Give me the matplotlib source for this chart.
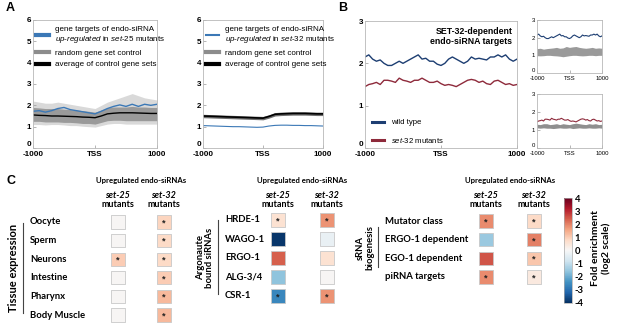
import numpy as np
import matplotlib
matplotlib.use('Agg')
import matplotlib.pyplot as plt
from matplotlib.lines import Line2D
from matplotlib.colors import Normalize
from matplotlib.cm import ScalarMappable
from matplotlib.transforms import blended_transform_factory as blend

W, H = 617, 328
plt.rcParams['font.family'] = ['Liberation Sans', 'DejaVu Sans']
plt.rcParams['axes.unicode_minus'] = False
plt.rcParams['mathtext.fontset'] = 'custom'
plt.rcParams['mathtext.it'] = 'Liberation Sans:italic'
plt.rcParams['mathtext.rm'] = 'Liberation Sans'
plt.rcParams['mathtext.bf'] = 'Liberation Sans:bold'

# ---- data: profiles (x = distance to TSS) ----
x21 = [-1000, -900, -800, -700, -600, -500, -400, -300, -200, -100, 0,
       100, 200, 300, 400, 500, 600, 700, 800, 900, 1000]

a1_blue = [1.72, 1.75, 1.68, 1.75, 1.85, 1.9, 1.8, 1.75, 1.7, 1.65, 1.6,
           1.72, 1.85, 1.95, 2.02, 1.95, 2.05, 1.95, 2.05, 2.0, 2.05]
a1_avg = [1.55, 1.53, 1.52, 1.5, 1.5, 1.49, 1.48, 1.47, 1.45, 1.44, 1.42,
          1.5, 1.6, 1.63, 1.65, 1.65, 1.65, 1.64, 1.63, 1.62, 1.62]
a1_outer_hi = [2.2, 2.15, 2.1, 2.1, 2.15, 2.1, 2.05, 2.0, 1.95, 1.9, 1.85,
               2.0, 2.15, 2.25, 2.35, 2.45, 2.55, 2.45, 2.35, 2.3, 2.25]
a1_outer_lo = [1.1, 1.1, 1.08, 1.1, 1.1, 1.08, 1.05, 1.05, 1.02, 1.0, 0.98,
               1.05, 1.12, 1.15, 1.15, 1.12, 1.12, 1.12, 1.12, 1.12, 1.12]
a1_inner_hi = [1.9, 1.88, 1.85, 1.85, 1.85, 1.82, 1.8, 1.78, 1.75, 1.72, 1.68,
               1.78, 1.88, 1.92, 1.92, 1.92, 1.95, 1.92, 1.92, 1.9, 1.9]
a1_inner_lo = [1.25, 1.25, 1.22, 1.22, 1.22, 1.2, 1.2, 1.18, 1.15, 1.15, 1.12,
               1.2, 1.28, 1.3, 1.3, 1.28, 1.28, 1.28, 1.28, 1.28, 1.28]

a2_blue = [1.05, 1.04, 1.03, 1.02, 1.01, 1.0, 1.0, 0.99, 0.98, 0.97, 0.98,
           1.03, 1.06, 1.07, 1.07, 1.06, 1.06, 1.05, 1.05, 1.04, 1.03]
a2_avg = [1.5, 1.49, 1.48, 1.47, 1.46, 1.45, 1.44, 1.43, 1.42, 1.41, 1.4,
          1.48, 1.58, 1.6, 1.61, 1.62, 1.62, 1.62, 1.61, 1.6, 1.6]
a2_hi = [1.58, 1.57, 1.56, 1.55, 1.54, 1.53, 1.52, 1.51, 1.5, 1.49, 1.48,
         1.56, 1.66, 1.68, 1.69, 1.7, 1.7, 1.7, 1.69, 1.68, 1.68]
a2_lo = [1.42, 1.41, 1.4, 1.39, 1.38, 1.37, 1.36, 1.35, 1.34, 1.33, 1.32,
         1.4, 1.5, 1.52, 1.53, 1.54, 1.54, 1.54, 1.53, 1.52, 1.52]

x41 = list(range(-1000, 1001, 50))
b_wt = [2.15, 2.2, 2.1, 2.05, 2.08, 2.0, 1.95, 1.95, 2.0, 2.05, 2.0, 2.05, 2.1, 2.15,
        2.2, 2.1, 2.12, 2.05, 2.05, 1.98, 1.95, 2.0, 2.1, 2.15, 2.1, 2.05, 2.0, 2.05,
        2.15, 2.1, 2.12, 2.1, 2.08, 2.15, 2.15, 2.2, 2.15, 2.2, 2.1, 2.05, 2.1]
b_mut = [1.45, 1.5, 1.52, 1.55, 1.5, 1.6, 1.6, 1.58, 1.55, 1.65, 1.6, 1.58, 1.55, 1.6,
         1.6, 1.65, 1.6, 1.55, 1.55, 1.58, 1.52, 1.48, 1.5, 1.48, 1.45, 1.5, 1.55, 1.6,
         1.62, 1.6, 1.55, 1.58, 1.52, 1.5, 1.58, 1.6, 1.55, 1.5, 1.52, 1.48, 1.5]
bs1_hi = [1.38, 1.4, 1.35, 1.38, 1.4, 1.42, 1.45, 1.4, 1.42, 1.5, 1.45,
          1.48, 1.5, 1.45, 1.42, 1.4, 1.42, 1.45, 1.4, 1.42, 1.4]
bs1_lo = [0.98, 0.97, 0.98, 1.0, 1.0, 0.98, 0.97, 0.95, 0.92, 0.95, 0.98,
          1.0, 1.0, 0.98, 0.97, 0.98, 1.0, 1.0, 0.98, 1.0, 1.0]
bs2_hi = [1.32, 1.3, 1.35, 1.35, 1.3, 1.32, 1.35, 1.3, 1.35, 1.32, 1.3,
          1.35, 1.38, 1.35, 1.32, 1.3, 1.35, 1.32, 1.35, 1.3, 1.32]
bs2_lo = [1.12, 1.1, 1.12, 1.1, 1.1, 1.08, 1.1, 1.12, 1.1, 1.1, 1.12,
          1.08, 1.1, 1.12, 1.1, 1.1, 1.12, 1.1, 1.1, 1.12, 1.1]

# ---- data: enrichment heatmaps (log2 fold) ----
tissue_rows = ['Oocyte', 'Sperm', 'Neurons', 'Intestine', 'Pharynx', 'Body Muscle']
tissue_set25 = [0.05, 0.05, 1.0, 0.05, 0.05, 0.05]
tissue_set32 = [0.9, 0.8, 0.8, 1.0, 1.3, 1.3]
tissue_sig25 = [0, 0, 1, 0, 0, 0]
tissue_sig32 = [1, 1, 1, 1, 1, 1]

ago_rows = ['HRDE-1', 'WAGO-1', 'ERGO-1', 'ALG-3/4', 'CSR-1']
ago_set25 = [0.6, -3.9, 2.4, -1.6, -2.6]
ago_set32 = [1.8, -0.3, 0.6, 0.05, 1.8]
ago_sig25 = [1, 0, 0, 0, 1]
ago_sig32 = [1, 0, 0, 0, 1]

bio_rows = ['Mutator class', 'ERGO-1 dependent', 'EGO-1 dependent', 'piRNA targets']
bio_set25 = [1.9, -1.5, 2.5, 1.9]
bio_set32 = [0.8, 2.0, 1.1, 0.4]
bio_sig25 = [1, 0, 0, 1]
bio_sig32 = [1, 1, 1, 1]

BLUE = '#3b78b6'
NAVY = '#1d3e72'
RED = '#8e2a3b'
GRAY = '#8c8c8c'

fig = plt.figure(figsize=(6.17, 3.28), dpi=100)


def box(l, t, r, b):
    return [l / W, 1 - b / H, (r - l) / W, (b - t) / H]


def fx(x):
    return x / W


def fy(y):
    return 1 - y / H


def style_profile(ax, ymax, size, bold=True):
    ax.set_xlim(-1000, 1000)
    ax.set_ylim(0, ymax)
    ax.set_xticks([-1000, 0, 1000])
    ax.set_xticklabels(['-1000', 'TSS', '1000'])
    ax.set_yticks(range(0, ymax + 1))
    for s in ax.spines.values():
        s.set_color('#b8b8b8')
        s.set_linewidth(0.6)
    ax.tick_params(direction='in', length=2, width=0.5, color='#999999',
                   labelsize=size, pad=1.5)
    ax.tick_params(axis='x', pad=2.5)
    for lab in ax.get_xticklabels() + ax.get_yticklabels():
        lab.set_fontweight('bold' if bold else 'normal')
    ax.get_yticklabels()[0].set_va('bottom')


# ---------------- panel A ----------------
axA1 = fig.add_axes(box(33, 20, 157, 148))
axA1.fill_between(x21, a1_outer_lo, a1_outer_hi, color='#d9d9d9', lw=0)
axA1.fill_between(x21, a1_inner_lo, a1_inner_hi, color='#9a9a9a', lw=0)
axA1.plot(x21, a1_blue, color=BLUE, lw=1.0)
axA1.plot(x21, a1_avg, color='black', lw=1.0)
style_profile(axA1, 6, 5.8)

axA2 = fig.add_axes(box(203, 20, 323, 148))
axA2.fill_between(x21, a2_lo, a2_hi, color='#6e6e6e', lw=0)
axA2.plot(x21, a2_avg, color='black', lw=1.2)
axA2.plot(x21, a2_blue, color=BLUE, lw=0.8)
style_profile(axA2, 6, 5.8)

for ax, mut in [(axA1, '25'), (axA2, '32')]:
    handles = [Line2D([], [], color=BLUE, lw=3 if mut == '25' else 1.5),
               Line2D([], [], color=GRAY, lw=3),
               Line2D([], [], color='black', lw=3)]
    labels = ['gene targets of endo-siRNA\n$\\mathit{up}$-$\\mathit{regulated}$ in '
              '$\\mathit{set}$-$\\mathit{' + mut + '}$ mutants',
              'random gene set control', 'average of control gene sets']
    ax.legend(handles, labels, loc='upper left', bbox_to_anchor=(-0.02, 1.0),
              frameon=False, fontsize=5.8, handlelength=1.6, handletextpad=0.7,
              labelspacing=0.5, borderaxespad=0.3)

fig.text(fx(6), fy(8), 'A', fontsize=9, fontweight='bold', va='center')
fig.text(fx(338), fy(8), 'B', fontsize=9, fontweight='bold', va='center')
fig.text(fx(6), fy(181), 'C', fontsize=9, fontweight='bold', va='center')

# ---------------- panel B ----------------
axB = fig.add_axes(box(365, 21, 517, 148))
axB.plot(x41, b_wt, color=NAVY, lw=1.0)
axB.plot(x41, b_mut, color=RED, lw=1.0)
style_profile(axB, 3, 5.8)
axB.text(0.97, 0.95, 'SET-32-dependent\nendo-siRNA targets', transform=axB.transAxes,
         ha='right', va='top', fontsize=6.3, fontweight='bold', linespacing=1.15)
axB.legend([Line2D([], [], color=NAVY, lw=2.2), Line2D([], [], color=RED, lw=2.2)],
           ['wild type', '$\\mathit{set}$-$\\mathit{32}$ mutants'], loc='lower left',
           bbox_to_anchor=(0.0, -0.03), frameon=False, fontsize=5.6, handlelength=1.6,
           handletextpad=0.8, labelspacing=1.2)

axB1 = fig.add_axes(box(537, 20, 602, 73))
axB1.fill_between(x21, bs1_lo, bs1_hi, color='#9a9a9a', lw=0)
axB1.plot(x41, b_wt, color=NAVY, lw=0.8)
style_profile(axB1, 3, 4.3, bold=False)

axB2 = fig.add_axes(box(537, 94, 602, 148))
axB2.fill_between(x21, bs2_lo, bs2_hi, color='#8f8f8f', lw=0)
axB2.plot(x41, b_mut, color=RED, lw=0.8)
style_profile(axB2, 3, 4.3, bold=False)

# ---------------- panel C ----------------
cmap = plt.get_cmap('RdBu_r')
norm = Normalize(-4, 4)
CF = ['Lato', 'DejaVu Sans']


def heat(ax, rows, v25, v32, s25, s32, lab_x):
    n = len(rows)
    for j, (vals, sig) in enumerate([(v25, s25), (v32, s32)]):
        ax.scatter([j] * n, list(range(n)), c=vals, cmap=cmap, norm=norm, marker='s',
                   s=92, edgecolors='#c8c8c8', linewidths=0.6)
        for i in range(n):
            if sig[i]:
                ax.text(j, i + 0.05, '*', ha='center', va='center', fontsize=6.5,
                        color='#222222', fontweight='bold')
    ax.set_xlim(-0.5, 1.5)
    ax.set_ylim(n - 0.5, -0.5)
    ax.axis('off')
    tr = blend(fig.transFigure, ax.transData)
    for i, r in enumerate(rows):
        ax.text(fx(lab_x), i, r, transform=tr, ha='left', va='center',
                fontsize=6.8, fontweight='bold', family=CF)
    trh = blend(ax.transData, fig.transFigure)
    ax.text(0.5, fy(180), 'Upregulated endo-siRNAs', transform=trh, ha='center',
            va='center', fontsize=5.6, fontweight='bold', family=CF)
    for j, m in enumerate(['set-25', 'set-32']):
        ax.text(j, fy(195), m, transform=trh, ha='center', va='center', fontsize=6.5,
                fontweight='bold', fontstyle='italic', family=CF)
        ax.text(j, fy(204.5), 'mutants', transform=trh, ha='center', va='center',
                fontsize=6.5, fontweight='bold', family=CF)


axC1 = fig.add_axes(box(95, 212.7, 187, 324.3))
heat(axC1, tissue_rows, tissue_set25, tissue_set32, tissue_sig25, tissue_sig32, 30)
axC2 = fig.add_axes(box(253.5, 210.5, 351.5, 305.5))
heat(axC2, ago_rows, ago_set25, ago_set32, ago_sig25, ago_sig32, 225)
axC3 = fig.add_axes(box(462, 211.7, 558, 286.3))
heat(axC3, bio_rows, bio_set25, bio_set32, bio_sig25, bio_sig32, 385)

# group labels with bars
fig.text(fx(14), fy(268), 'Tissue expression', rotation=90, ha='center', va='center',
         fontsize=8, fontweight='bold', family=CF)
fig.add_artist(Line2D([fx(23), fx(23)], [fy(223), fy(313)], color='#444444', lw=0.8))
fig.text(fx(205), fy(258), 'Argonaute\nbound siRNAs', rotation=90, ha='center',
         va='center', fontsize=6.8, fontweight='bold', family=CF, linespacing=1.05)
fig.add_artist(Line2D([fx(218), fx(218)], [fy(220), fy(294)], color='#444444', lw=0.8))
fig.text(fx(365), fy(248), 'sRNA\nbiogenesis', rotation=90, ha='center', va='center',
         fontsize=6.8, fontweight='bold', family=CF, linespacing=1.05)
fig.add_artist(Line2D([fx(378), fx(378)], [fy(227), fy(267)], color='#444444', lw=0.8))

# colorbar
cax = fig.add_axes(box(564, 198, 572, 303))
cb = fig.colorbar(ScalarMappable(norm=norm, cmap=cmap), cax=cax, ticks=range(-4, 5))
cb.outline.set_linewidth(0.5)
cb.outline.set_edgecolor('#aaaaaa')
cax.tick_params(labelsize=6.8, length=0, pad=2)
for lab in cax.get_yticklabels():
    lab.set_fontweight('bold')
    lab.set_family(CF)
fig.text(fx(601), fy(248), 'Fold enrichment\n(log2 scale)', rotation=90, ha='center',
         va='center', fontsize=7.5, fontweight='bold', family=CF, linespacing=1.1)

fig.savefig('out.png', dpi=100)
